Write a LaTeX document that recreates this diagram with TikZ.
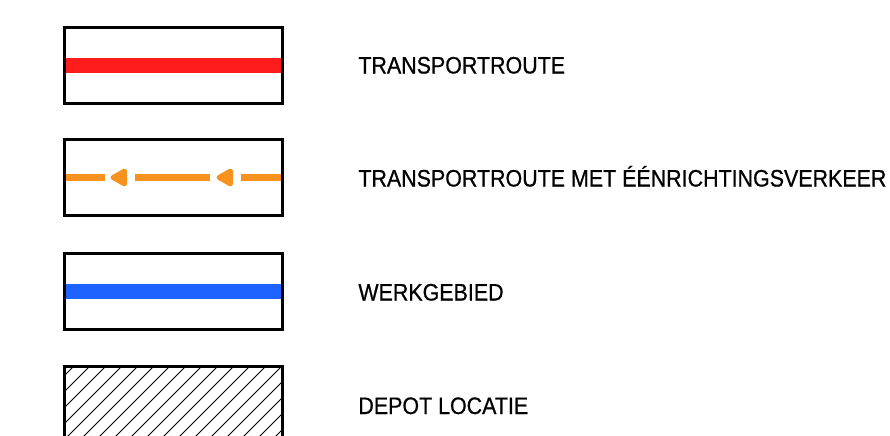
\documentclass[tikz,border=0pt]{standalone}
\usepackage{fontspec}
\setmainfont{Liberation Sans}[FakeStretch=0.9, FakeBold=0.7]
\usetikzlibrary{positioning}

\definecolor{routered}{RGB}{255,28,28}
\definecolor{routeorange}{RGB}{247,146,30}
\definecolor{areablue}{RGB}{30,98,255}

\begin{document}
\begin{tikzpicture}[x=0.5pt, y=-0.5pt, font=\fontsize{11.9}{14}\selectfont,
  swatch/.style={draw, line width=1.5pt, minimum width=109pt, minimum height=38pt, inner sep=0pt, outer sep=0pt},
  lbl/.style={anchor=base west, inner sep=0pt}]
  \useasboundingbox (0,0) rectangle (890,435);
  \clip (0,0) rectangle (890,435);

  % legend swatches
  \node[swatch] (route) at (173,65) {};
  \node[swatch] (oneway) at (173,177.5) {};
  \node[swatch] (area) at (173,291) {};
  \node[swatch, minimum height=40pt] (depot) at (173,406) {};

  \draw[routered, line width=7.5pt] ([xshift=0.75pt]route.west) -- ([xshift=-0.75pt]route.east);
  \draw[areablue, line width=7.5pt] ([xshift=0.75pt]area.west) -- ([xshift=-0.75pt]area.east);

  % one way: dashes and arrow heads
  \draw[routeorange, line width=3.5pt] ([xshift=0.75pt]oneway.west) -- (105,177.5);
  \draw[routeorange, line width=3.5pt] (135,177.5) -- (210,177.5);
  \draw[routeorange, line width=3.5pt] (241,177.5) -- ([xshift=-0.75pt]oneway.east);
  \foreach \t in {109,215}
    \filldraw[routeorange, line width=1pt, line join=round, rounded corners=1.5pt] (\t+1,177.5) -- (\t+17,168.5) -- (\t+17,186.5) -- cycle;

  % hatching
  \begin{scope}
    \clip (depot.north west) rectangle (depot.south east);
    \foreach \h in {-90,-74,...,300}
      \draw[line width=0.5pt] (\h,450) -- (\h+90,360);
  \end{scope}
  \draw[line width=1.5pt] (depot.north west) rectangle (depot.south east);

  \node[lbl] (routelbl) at (358,73.5) {TRANSPORTROUTE};
  \node[lbl] (onewaylbl) at (358,186.5) {TRANSPORTROUTE MET ÉÉNRICHTINGSVERKEER};
  \node[lbl] (arealbl) at (358,300.5) {WERKGEBIED};
  \node[lbl] (depotlbl) at (358,414) {DEPOT LOCATIE};
\end{tikzpicture}
\end{document}
